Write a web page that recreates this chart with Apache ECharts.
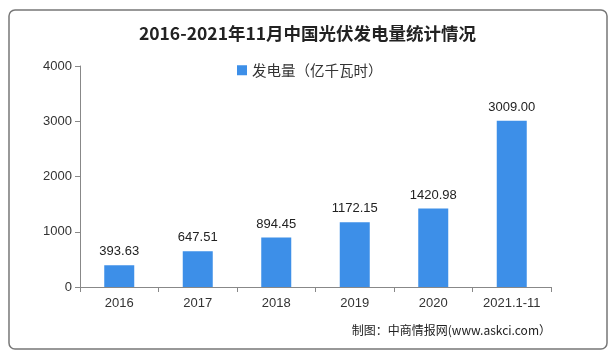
<!DOCTYPE html>
<html>
<head>
<meta charset="utf-8">
<script src="https://cdn.jsdelivr.net/npm/echarts@6/dist/echarts.min.js"></script>
<style>html,body{margin:0;padding:0;background:#fff;}#c{width:615px;height:358px;}</style>
</head>
<body>
<div id="c"></div>
<script>
var categories = ['2016', '2017', '2018', '2019', '2020', '2021.1-11'];
var values = [393.63, 647.51, 894.45, 1172.15, 1420.98, 3009.00];
var yTicks = [0, 1000, 2000, 3000, 4000];
var seriesName = '发电量（亿千瓦时）';
var titleText = '2016-2021年11月中国光伏发电量统计情况';
var sourceText = '制图：中商情报网(www.askci.com）';

var chart = echarts.init(document.getElementById('c'), null, {renderer: 'canvas'});
chart.setOption({
  backgroundColor: '#fff',
  animation: false,
  title: {
    text: titleText, left: 'center', top: 20,
    textStyle: {fontFamily: 'Noto Sans CJK SC', fontWeight: 'bold', fontSize: 17.5, color: '#222'}
  },
  legend: {
    data: [seriesName], top: 58, left: 232, itemWidth: 10, itemHeight: 10, itemGap: 4,
    icon: 'rect',
    textStyle: {fontFamily: 'Noto Sans CJK SC', fontSize: 14.5, color: '#333'}
  },
  graphic: [
    {type: 'rect', shape: {x: 9, y: 10, width: 598, height: 339, r: 6},
     style: {fill: 'none', stroke: '#777', lineWidth: 1.5}},
    {type: 'text', right: 64, top: 324,
     style: {text: sourceText, font: '12px "Noto Sans CJK SC"', fill: '#222'}}
  ],
  grid: {left: 80, right: 64, top: 66, bottom: 71},
  xAxis: {
    type: 'category', data: categories,
    axisLine: {lineStyle: {color: '#888'}},
    axisTick: {show: true, alignWithLabel: false, lineStyle: {color: '#888'}},
    axisLabel: {fontFamily: 'Liberation Sans', fontSize: 13, color: '#333', margin: 10}
  },
  yAxis: {
    type: 'value', min: yTicks[0], max: yTicks[yTicks.length - 1], interval: 1000,
    axisLine: {show: true, lineStyle: {color: '#888'}},
    axisTick: {show: true, lineStyle: {color: '#888'}},
    splitLine: {show: false},
    axisLabel: {fontFamily: 'Liberation Sans', fontSize: 13, color: '#333', margin: 8,
      formatter: function (v) { return String(v); }}
  },
  series: [{
    name: seriesName, type: 'bar', data: values, barWidth: 30,
    itemStyle: {color: '#3d8fe8'},
    label: {
      show: true, position: 'top', distance: 7,
      fontFamily: 'Liberation Sans', fontSize: 13, color: '#222',
      formatter: function (p) { return p.value.toFixed(2); }
    }
  }]
});
</script>
</body>
</html>
